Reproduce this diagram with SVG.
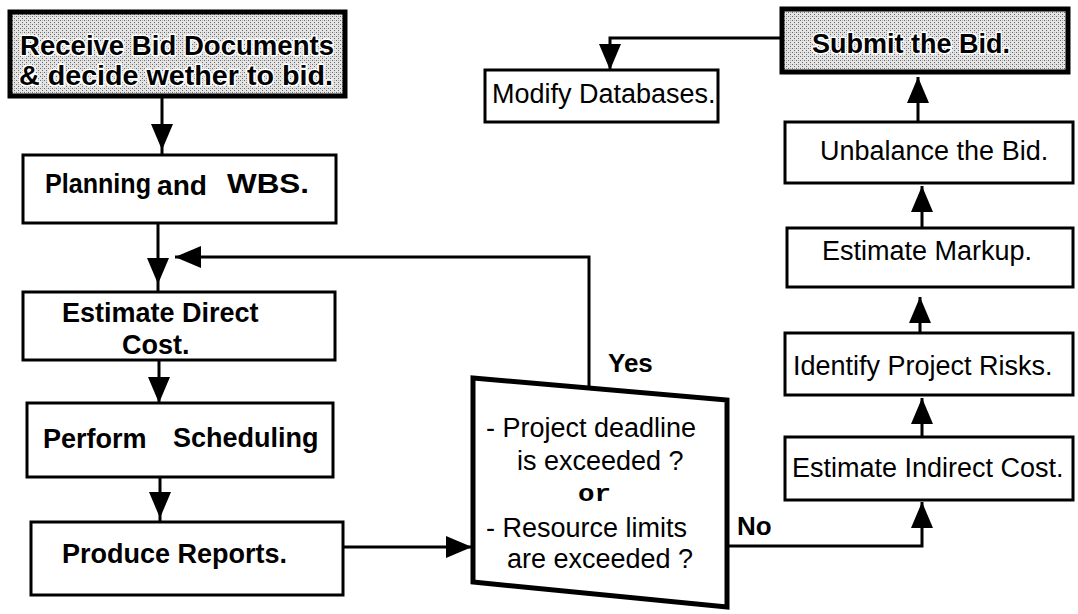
<svg xmlns="http://www.w3.org/2000/svg" width="1078" height="614" viewBox="0 0 1078 614">
  <defs>
    <!-- halftone screen used for the start / end boxes -->
    <pattern id="screen" width="4" height="4" patternUnits="userSpaceOnUse">
      <rect width="4" height="4" fill="#e4e4e4"/>
      <rect x="0" y="0" width="1" height="1" fill="#6a6a6a"/>
      <rect x="2" y="2" width="1" height="1" fill="#6a6a6a"/>
      <rect x="2" y="0" width="1" height="1" fill="#b0b0b0"/>
    </pattern>
    <marker id="arrow" markerUnits="userSpaceOnUse" viewBox="0 0 26 22" refX="26" refY="11" markerWidth="26" markerHeight="22" orient="auto">
      <path d="M0,0 L26,11 L0,22 Z" fill="#000"/>
    </marker>
    <style>
      .box { fill: #fff; stroke: #000; stroke-width: 3; }
      .key { fill: url(#screen); stroke: #000; stroke-width: 5; }
      .dec { fill: #fff; stroke: #000; stroke-width: 5; stroke-linejoin: miter; }
      .line { fill: none; stroke: #000; stroke-width: 3; }
      .b { font-family: "Liberation Sans", Arial, sans-serif; font-weight: bold; font-size: 27px; fill: #000; }
      .r { font-family: "Liberation Sans", Arial, sans-serif; font-size: 27px; fill: #000; }
      .halo { font-size: 27px; stroke: #fff; stroke-width: 3; paint-order: stroke; stroke-linejoin: round; }
      .mono { font-family: "Liberation Mono", "Courier New", monospace; font-size: 24px; font-weight: bold; fill: #000; }
    </style>
  </defs>

  <g id="connectors">
    <path class="line" d="M162,96 V150" marker-end="url(#arrow)"/>
    <path class="line" d="M162,150 V155"/>
    <path class="line" d="M158,223 V284" marker-end="url(#arrow)"/>
    <path class="line" d="M158,284 V292"/>
    <path class="line" d="M159,360 V403" marker-end="url(#arrow)"/>
    <path class="line" d="M160,477 V518" marker-end="url(#arrow)"/>
    <path class="line" d="M160,518 V522"/>
    <path class="line" d="M343,547 H472" marker-end="url(#arrow)"/>
    <path class="line" d="M589,388 V257 H175" marker-end="url(#arrow)"/>
    <path class="line" d="M727,546 H922 V502" marker-end="url(#arrow)"/>
    <path class="line" d="M922,437 V398" marker-end="url(#arrow)"/>
    <path class="line" d="M920,333 V297" marker-end="url(#arrow)"/>
    <path class="line" d="M922,228 V186" marker-end="url(#arrow)"/>
    <path class="line" d="M918,122 V77" marker-end="url(#arrow)"/>
    <path class="line" d="M782,38 H610 V70" marker-end="url(#arrow)"/>
    <text class="b" x="608" y="372" style="font-size:26px">Yes</text>
    <text class="b" x="737" y="535" style="font-size:26px">No</text>
  </g>

  <g id="receive">
    <rect class="key" x="10" y="12" width="335" height="84"/>
    <text class="b halo" x="20" y="55" textLength="314" lengthAdjust="spacingAndGlyphs">Receive Bid Documents</text>
    <text class="b halo" x="19" y="85" textLength="314" lengthAdjust="spacingAndGlyphs">&amp; decide wether to bid.</text>
  </g>

  <g id="planning">
    <rect class="box" x="23" y="155" width="313" height="68"/>
    <text class="b" x="45" y="193" textLength="106" lengthAdjust="spacingAndGlyphs">Planning</text>
    <text class="b" x="157" y="195" textLength="50" lengthAdjust="spacingAndGlyphs">and</text>
    <text class="b" x="227" y="193" textLength="82" lengthAdjust="spacingAndGlyphs">WBS.</text>
  </g>

  <g id="direct-cost">
    <rect class="box" x="23" y="292" width="312" height="68"/>
    <text class="b" x="62" y="322">Estimate Direct</text>
    <text class="b" x="122" y="354">Cost.</text>
  </g>

  <g id="scheduling">
    <rect class="box" x="27" y="403" width="306" height="74"/>
    <text class="b" x="43" y="448">Perform</text>
    <text class="b" x="173" y="447">Scheduling</text>
  </g>

  <g id="reports">
    <rect class="box" x="31" y="522" width="312" height="73"/>
    <text class="b" x="62" y="563">Produce Reports.</text>
  </g>

  <g id="check">
    <polygon class="dec" points="473,378 727,400 727,607 473,582"/>
    <text class="r" x="486" y="437">- Project deadline</text>
    <text class="r" x="517" y="470">is exceeded ?</text>
    <text class="mono" x="578" y="501" textLength="33" lengthAdjust="spacingAndGlyphs">or</text>
    <text class="r" x="486" y="537">- Resource limits</text>
    <text class="r" x="507" y="568">are exceeded ?</text>
  </g>

  <g id="indirect-cost">
    <rect class="box" x="785" y="437" width="288" height="63"/>
    <text class="r" x="792" y="477">Estimate Indirect Cost.</text>
  </g>

  <g id="risks">
    <rect class="box" x="785" y="333" width="288" height="62"/>
    <text class="r" x="793" y="375">Identify Project Risks.</text>
  </g>

  <g id="markup">
    <rect class="box" x="787" y="228" width="286" height="59"/>
    <text class="r" x="822" y="260">Estimate Markup.</text>
  </g>

  <g id="unbalance">
    <rect class="box" x="785" y="122" width="288" height="61"/>
    <text class="r" x="820" y="160">Unbalance the Bid.</text>
  </g>

  <g id="submit">
    <rect class="key" x="782" y="9" width="286" height="63"/>
    <text class="b halo" x="812" y="53">Submit the Bid.</text>
  </g>

  <g id="databases">
    <rect class="box" x="485" y="70" width="233" height="52"/>
    <text class="r" x="492" y="103">Modify Databases.</text>
  </g>
</svg>
